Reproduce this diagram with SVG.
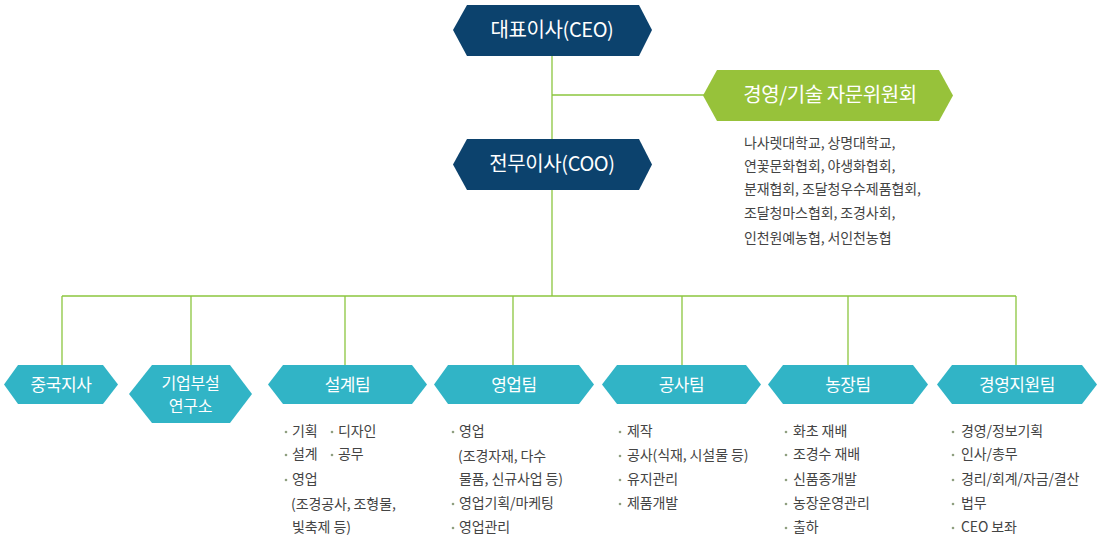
<svg xmlns="http://www.w3.org/2000/svg" width="1100" height="552" viewBox="0 0 1100 552">
<style>
.ln{stroke:#8cc63f;stroke-width:1.3;fill:none}
.navy{fill:#0c426d}
.lime{fill:#97c23a}
.teal{fill:#31b4c6}
text{font-family:"Noto Sans CJK KR","Noto Sans",sans-serif}
.t1{fill:#fff;font-size:20px;text-anchor:middle;letter-spacing:-0.4px}
.t2{fill:#fff;font-size:17px;text-anchor:middle;letter-spacing:-0.4px}
.t3{fill:#fff;font-size:16px;text-anchor:middle;letter-spacing:-0.2px}
.li{fill:#444;font-size:14px;letter-spacing:-0.1px}
.b{fill:#8f9f80}
</style>
<rect width="1100" height="552" fill="#fff"/>
<g id="connectors">
<path class="ln" d="M552 56V296M552 95H705M62 296H1016M62 296V365M191 296V365M345 296V365M513 296V365M682 296V365M848 296V365M1016 296V365"/>
</g>
<g id="ceo">
<polygon class="navy" points="453,30 467,5 639,5 652,30 639,56 467,56"/>
<text class="t1" x="552" y="37">대표이사(CEO)</text>
</g>
<g id="coo">
<polygon class="navy" points="453,164.5 467,139 639,139 652,164.5 639,190 467,190"/>
<text class="t1" x="552" y="171">전무이사(COO)</text>
</g>
<g id="advisory">
<polygon class="lime" points="703,95.5 717,70 939,70 953,95.5 939,121 717,121"/>
<text class="t1" x="830" y="102">경영/기술 자문위원회</text>
<text class="li" x="744" y="148">나사렛대학교, 상명대학교,</text>
<text class="li" x="744" y="171">연꽃문화협회, 야생화협회,</text>
<text class="li" x="744" y="194">분재협회, 조달청우수제품협회,</text>
<text class="li" x="744" y="218">조달청마스협회, 조경사회,</text>
<text class="li" x="744" y="243">인천원예농협, 서인천농협</text>
</g>
<g id="china">
<polygon class="teal" points="4,384.5 18,365 103,365 118,384.5 103,404 18,404"/>
<text class="t2" x="61" y="390.5">중국지사</text>
</g>
<g id="lab">
<polygon class="teal" points="129,394 152,365 230,365 252,394 230,423 152,423"/>
<text class="t3" x="190.5" y="388.5">기업부설</text>
<text class="t3" x="190.5" y="412">연구소</text>
</g>
<g id="design">
<polygon class="teal" points="268,384.5 283,365 412,365 427,384.5 412,404 283,404"/>
<text class="t2" x="347.5" y="390.5">설계팀</text>
<circle class="b" cx="286" cy="432" r="1.3"/><text class="li" x="292" y="436">기획</text>
<circle class="b" cx="332" cy="432" r="1.3"/><text class="li" x="338" y="436">디자인</text>
<circle class="b" cx="286" cy="455" r="1.3"/><text class="li" x="292" y="459">설계</text>
<circle class="b" cx="332" cy="455" r="1.3"/><text class="li" x="338" y="459">공무</text>
<circle class="b" cx="286" cy="480" r="1.3"/><text class="li" x="292" y="484">영업</text>
<text class="li" x="291" y="509">(조경공사, 조형물,</text>
<text class="li" x="292" y="532">빛축제 등)</text>
</g>
<g id="sales">
<polygon class="teal" points="434,384.5 448,365 579,365 594,384.5 579,404 448,404"/>
<text class="t2" x="514" y="390.5">영업팀</text>
<circle class="b" cx="453" cy="432" r="1.3"/><text class="li" x="459" y="436">영업</text>
<text class="li" x="458" y="461">(조경자재, 다수</text>
<text class="li" x="459" y="484">물품, 신규사업 등)</text>
<circle class="b" cx="453" cy="504" r="1.3"/><text class="li" x="459" y="508">영업기획/마케팅</text>
<circle class="b" cx="453" cy="528" r="1.3"/><text class="li" x="459" y="532">영업관리</text>
</g>
<g id="construction">
<polygon class="teal" points="602,384.5 617,365 746,365 761,384.5 746,404 617,404"/>
<text class="t2" x="681.5" y="390.5">공사팀</text>
<circle class="b" cx="620" cy="432" r="1.3"/><text class="li" x="627" y="436">제작</text>
<circle class="b" cx="620" cy="456" r="1.3"/><text class="li" x="627" y="460">공사(식재, 시설물 등)</text>
<circle class="b" cx="620" cy="480" r="1.3"/><text class="li" x="627" y="484">유지관리</text>
<circle class="b" cx="620" cy="504" r="1.3"/><text class="li" x="627" y="508">제품개발</text>
</g>
<g id="farm">
<polygon class="teal" points="768,384.5 783,365 913,365 928,384.5 913,404 783,404"/>
<text class="t2" x="848" y="390.5">농장팀</text>
<circle class="b" cx="786" cy="432" r="1.3"/><text class="li" x="793" y="436">화초 재배</text>
<circle class="b" cx="786" cy="455" r="1.3"/><text class="li" x="793" y="459">조경수 재배</text>
<circle class="b" cx="786" cy="480" r="1.3"/><text class="li" x="793" y="484">신품종개발</text>
<circle class="b" cx="786" cy="504" r="1.3"/><text class="li" x="793" y="508">농장운영관리</text>
<circle class="b" cx="786" cy="528" r="1.3"/><text class="li" x="793" y="532">출하</text>
</g>
<g id="support">
<polygon class="teal" points="937,384.5 952,365 1082,365 1097,384.5 1082,404 952,404"/>
<text class="t2" x="1017" y="390.5">경영지원팀</text>
<circle class="b" cx="953" cy="432" r="1.3"/><text class="li" x="961" y="436">경영/정보기획</text>
<circle class="b" cx="953" cy="455" r="1.3"/><text class="li" x="961" y="459">인사/총무</text>
<circle class="b" cx="953" cy="480" r="1.3"/><text class="li" x="961" y="484">경리/회계/자금/결산</text>
<circle class="b" cx="953" cy="504" r="1.3"/><text class="li" x="961" y="508">법무</text>
<circle class="b" cx="953" cy="528" r="1.3"/><text class="li" x="961" y="532">CEO 보좌</text>
</g>
</svg>
